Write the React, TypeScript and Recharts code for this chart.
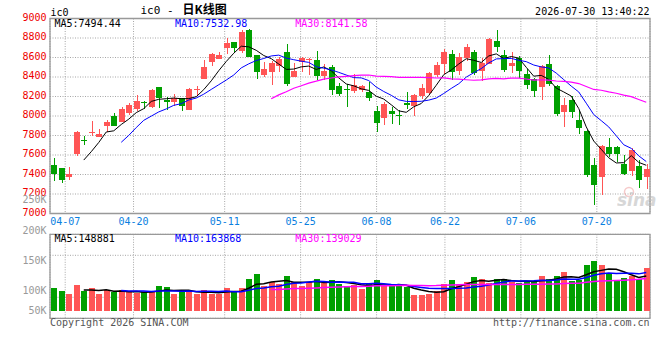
import React from 'react';
import { ComposedChart, Bar, Line, XAxis, YAxis, CartesianGrid, ReferenceArea } from 'recharts';

// Trading days (MM-DD), 2026
const dates = [
  '04-02', '04-03', '04-07', '04-08', '04-09', '04-10', '04-13', '04-14', '04-15', '04-16',
  '04-17', '04-20', '04-21', '04-22', '04-23', '04-24', '04-27', '04-28', '04-29', '04-30',
  '05-06', '05-07', '05-08', '05-11', '05-12', '05-13', '05-14', '05-15', '05-18', '05-19',
  '05-20', '05-21', '05-22', '05-25', '05-26', '05-27', '05-28', '05-29', '06-01', '06-02',
  '06-03', '06-04', '06-05', '06-08', '06-09', '06-10', '06-11', '06-12', '06-15', '06-16',
  '06-17', '06-18', '06-22', '06-23', '06-24', '06-25', '06-26', '06-29', '06-30', '07-01',
  '07-02', '07-03', '07-06', '07-07', '07-08', '07-09', '07-10', '07-13', '07-14', '07-15',
  '07-16', '07-17', '07-20', '07-21', '07-22', '07-23', '07-24', '07-27', '07-28', '07-29',
];

const opens = [
  7497, 7463, 7374, 7614, 7752, 7829, 7785, 7897, 7998, 7942,
  8031, 8075, 8146, 8092, 8297, 8161, 8147, 8181, 8065, 8275,
  8380, 8550, 8588, 8694, 8759, 8670, 8886, 8626, 8421, 8455,
  8513, 8656, 8403, 8554, 8576, 8571, 8414, 8503, 8311, 8272,
  8256, 8263, 8250, 8051, 7983, 8051, 8010, 8133, 8103, 8205,
  8236, 8421, 8533, 8636, 8462, 8598, 8656, 8462, 8533, 8769,
  8626, 8516, 8592, 8431, 8376, 8301, 8533, 8308, 8044, 8164,
  7956, 7850, 7497, 7378, 7679, 7679, 7511, 7439, 7487, 7374,
];

const highs = [
  7566, 7470, 7480, 7845, 7798, 7949, 7867, 7956, 8034, 8089,
  8130, 8215, 8157, 8277, 8300, 8195, 8222, 8185, 8291, 8304,
  8571, 8646, 8653, 8803, 8762, 8886, 8892, 8630, 8550, 8564,
  8602, 8742, 8540, 8609, 8592, 8667, 8530, 8523, 8335, 8332,
  8427, 8315, 8352, 8106, 8144, 8092, 8062, 8243, 8229, 8325,
  8448, 8557, 8691, 8677, 8646, 8735, 8677, 8592, 8804, 8886,
  8677, 8653, 8615, 8482, 8385, 8523, 8626, 8315, 8181, 8205,
  8062, 7856, 7569, 7699, 7778, 7692, 7600, 7668, 7549, 7504,
];

const lows = [
  7337, 7316, 7347, 7593, 7699, 7798, 7782, 7833, 7898, 7935,
  8010, 8055, 8068, 8086, 8086, 8062, 8106, 8055, 8062, 8215,
  8375, 8516, 8585, 8633, 8660, 8650, 8600, 8383, 8400, 8318,
  8455, 8311, 8400, 8448, 8421, 8369, 8366, 8215, 8209, 8096,
  8233, 8243, 8154, 7839, 7908, 7921, 7908, 8072, 8000, 8174,
  8229, 8400, 8431, 8373, 8421, 8564, 8421, 8359, 8530, 8660,
  8455, 8445, 8386, 8277, 8198, 8164, 8304, 7997, 7884, 7983,
  7815, 7371, 7087, 7190, 7576, 7532, 7400, 7388, 7258, 7251,
];

const closes = [
  7405, 7347, 7402, 7839, 7748, 7835, 7819, 7938, 7901, 8072,
  8109, 8154, 8142, 8270, 8181, 8140, 8188, 8106, 8277, 8279,
  8503, 8639, 8626, 8749, 8701, 8865, 8605, 8448, 8482, 8540,
  8588, 8332, 8465, 8595, 8580, 8414, 8462, 8270, 8229, 8268,
  8318, 8308, 8188, 7932, 8123, 8024, 7997, 8113, 8215, 8291,
  8438, 8520, 8657, 8452, 8602, 8705, 8442, 8544, 8787, 8708,
  8470.6, 8541, 8462, 8315, 8253, 8513, 8329, 8021, 8117, 8041,
  7872, 7390, 7294, 7694, 7607.6, 7607, 7405, 7655, 7347, 7458.2,
];

const volumes = [
  96200, 83300, 71800, 112100, 83300, 96200, 70400, 90500, 79000, 87600,
  79000, 76200, 79000, 83300, 104900, 100600, 70400, 83300, 83300, 71800,
  87600, 73300, 73300, 96200, 83300, 96200, 135000, 156600, 107800, 122100,
  113500, 148000, 122100, 107800, 122100, 135000, 117800, 130700, 116400, 107800,
  112100, 91900, 116400, 130700, 104900, 104900, 104900, 102000, 67500, 67500,
  72300, 86700, 114000, 131200, 114000, 122600, 144100, 135500, 118300, 135500,
  135500, 124000, 119700, 125500, 125500, 148500, 135500, 148500, 165700, 129590,
  133700, 195500, 212700, 195500, 156875, 129300, 142200, 150900, 137900, 184105,
];

const priceTicks = [7000, 7200, 7400, 7600, 7800, 8000, 8200, 8400, 8600, 8800, 9000];
const dateTicks = ['04-07', '04-20', '05-11', '05-25', '06-08', '06-22', '07-06', '07-20'];
const volumeTickLabels = [50000, 100000, 150000, 200000, 250000];

const RED = '#ff5555';
const GREEN = '#00a000';
const MONO = '"DejaVu Sans Mono", "Liberation Mono", monospace';
const GRID = '#a6a6a6';
const FRAME = '#999999';

function movingAverage(values: number[], n: number): (number | null)[] {
  return values.map((_, i) => {
    if (i < n - 1) return null;
    let s = 0;
    for (let k = i - n + 1; k <= i; k++) s += values[k];
    return s / n;
  });
}

const ma5 = movingAverage(closes, 5);
const ma10 = movingAverage(closes, 10);
const ma30 = movingAverage(closes, 30);
const vma5 = movingAverage(volumes, 5);
const vma10 = movingAverage(volumes, 10);
const vma30 = movingAverage(volumes, 30);

const rows = dates.map((date, i) => ({
  idx: i,
  date,
  open: opens[i],
  high: highs[i],
  low: lows[i],
  close: closes[i],
  volume: volumes[i],
  ma5: ma5[i],
  ma10: ma10[i],
  ma30: ma30[i],
  vma5: vma5[i],
  vma10: vma10[i],
  vma30: vma30[i],
}));

const N = dates.length;
const dateTickIdx = dateTicks.map((d) => dates.indexOf(d));
const last = (a: (number | null)[]) => a[a.length - 1] as number;

// Layout of the two panels
const MAIN_H = 232;
const VOL_TOP = 190;
const VOL_H = 170;
const VOL_MARGIN = { top: 44.3, right: 10, bottom: 41.7, left: 0 };
const VOL_PLOT_BOTTOM = VOL_H - VOL_MARGIN.bottom;

function Candle(props: any) {
  const { x, y, width, height, payload } = props;
  if (x == null || y == null || !payload) return null;
  const { open, close, high, low } = payload;
  const color = close >= open ? RED : GREEN;
  const top = Math.min(y, y + height);
  const span = Math.abs(height);
  const ppu = high > low ? span / (high - low) : 0;
  const py = (v: number) => top + (high - v) * ppu;
  const left = Math.round(x);
  const w = Math.round(width);
  const cx = left + Math.floor(w / 2) + 0.5;
  const bTop = Math.round(py(Math.max(open, close)));
  const bBot = Math.round(py(Math.min(open, close)));
  return (
    <g>
      <line x1={cx} x2={cx} y1={Math.round(top)} y2={Math.round(top + span)} stroke={color} strokeWidth={1} shapeRendering="crispEdges" />
      <rect x={left} y={bTop} width={w} height={Math.max(1, bBot - bTop)} fill={color} shapeRendering="crispEdges" />
    </g>
  );
}

function VolumeBar(props: any) {
  const { x, y, width, height, payload } = props;
  if (x == null || y == null || !payload) return null;
  const color = payload.close >= payload.open ? RED : GREEN;
  const top = Math.round(Math.min(y, y + height));
  const bottom = Math.round(Math.max(y, y + height));
  return <rect x={Math.round(x)} y={top} width={Math.round(width)} height={bottom - top} fill={color} shapeRendering="crispEdges" />;
}

function PriceTick(props: any) {
  const { x, y, payload } = props;
  return (
    <text x={x} y={y + 2.2} textAnchor="end" fill="#ee0000" fontSize={10} fontFamily={MONO}>
      {payload.value}
    </text>
  );
}

function DateTick(props: any) {
  const { x, y, payload } = props;
  return (
    <text x={x} y={y + 11} textAnchor="middle" fill="#0a80e0" fontSize={10} fontFamily={MONO}>
      {dates[payload.value]}
    </text>
  );
}

function VolumeLabelTick(props: any) {
  const { x, y, payload } = props;
  const ty = Math.min(y, VOL_PLOT_BOTTOM - 7.6);
  return (
    <text x={x} y={ty + 3.6} textAnchor="end" fill="#999999" fontSize={10} fontFamily={MONO}>
      {`${payload.value / 1000}K`}
    </text>
  );
}

export default function App() {
  return (
    <div style={{ position: 'absolute', left: 0, top: 0, width: 660, height: 360, background: '#ffffff', overflow: 'hidden' }}>
      <div style={{ position: 'absolute', left: 0, top: 0 }}>
        <ComposedChart width={660} height={MAIN_H} data={rows} margin={{ top: 18.5, right: 10, bottom: 0, left: 0 }}>
          <XAxis xAxisId="k" dataKey="date" type="category" hide />
          <XAxis
            xAxisId="dates"
            dataKey="idx"
            type="number"
            domain={[0, N - 1]}
            allowDataOverflow
            ticks={dateTickIdx}
            interval={0}
            axisLine={false}
            tickLine={false}
            tickSize={0}
            tickMargin={0}
            height={18.5}
            tick={<DateTick />}
          />
          <YAxis
            yAxisId="p"
            type="number"
            domain={[7000, 9000]}
            allowDataOverflow
            ticks={priceTicks}
            interval={0}
            width={50}
            axisLine={false}
            tickLine={false}
            tickSize={0}
            tickMargin={3.5}
            tick={<PriceTick />}
          />
          <CartesianGrid xAxisId="dates" yAxisId="p" stroke={GRID} strokeDasharray="1 1.5" />
          <ReferenceArea xAxisId="dates" yAxisId="p" x1={0} x2={N - 1} y1={7000} y2={9000} fill="none" stroke={FRAME} strokeWidth={1.3} />
          <Bar xAxisId="k" yAxisId="p" dataKey={(r: any) => [r.low, r.high]} barSize={6} shape={<Candle />} isAnimationActive={false} />
          <Line xAxisId="k" yAxisId="p" dataKey="ma5" stroke="#000000" strokeWidth={1} dot={false} isAnimationActive={false} />
          <Line xAxisId="k" yAxisId="p" dataKey="ma10" stroke="#0000ff" strokeWidth={1} dot={false} isAnimationActive={false} />
          <Line xAxisId="k" yAxisId="p" dataKey="ma30" stroke="#ff00ff" strokeWidth={1.2} dot={false} isAnimationActive={false} />
        </ComposedChart>
      </div>

      <div style={{ position: 'absolute', left: 0, top: VOL_TOP }}>
        <ComposedChart width={660} height={VOL_H} data={rows} margin={VOL_MARGIN}>
          <XAxis xAxisId="k" dataKey="date" type="category" hide />
          <XAxis xAxisId="dates" dataKey="idx" type="number" domain={[0, N - 1]} allowDataOverflow ticks={dateTickIdx} interval={0} hide />
          <YAxis yAxisId="v" type="number" domain={[-32000, 328000]} allowDataOverflow ticks={[58000, 148000, 238000]} hide />
          <YAxis
            yAxisId="lab"
            type="number"
            domain={[54300, 192900]}
            allowDataOverflow
            ticks={volumeTickLabels}
            interval={0}
            width={50}
            axisLine={false}
            tickLine={false}
            tickSize={0}
            tickMargin={3.5}
            tick={<VolumeLabelTick />}
          />
          <CartesianGrid xAxisId="dates" yAxisId="v" stroke={GRID} strokeDasharray="1 1.5" />
          <ReferenceArea xAxisId="dates" yAxisId="v" x1={0} x2={N - 1} y1={-32000} y2={328000} fill="none" stroke={FRAME} strokeWidth={1.3} />
          <Bar xAxisId="k" yAxisId="v" dataKey="volume" barSize={6} shape={<VolumeBar />} isAnimationActive={false} />
          <Line xAxisId="k" yAxisId="v" dataKey="vma5" stroke="#000000" strokeWidth={1.5} dot={false} isAnimationActive={false} />
          <Line xAxisId="k" yAxisId="v" dataKey="vma10" stroke="#0000ff" strokeWidth={1.5} dot={false} isAnimationActive={false} />
          <Line xAxisId="k" yAxisId="v" dataKey="vma30" stroke="#ff00ff" strokeWidth={1.5} dot={false} isAnimationActive={false} />
        </ComposedChart>
      </div>

      <svg width={660} height={360} style={{ position: 'absolute', left: 0, top: 0, pointerEvents: 'none' }}>
        <text x={50.5} y={16} fill="#000000" fontSize={10} fontFamily={MONO}>ic0</text>
        <text x={140.5} y={14.3} fill="#000000" fontSize={11} fontFamily={MONO}>
          ic0 -
          <tspan x={182.5} fontSize={12} fontWeight="bold" fontFamily='"Noto Sans CJK SC", sans-serif'>日K线图</tspan>
        </text>
        <text x={649.5} y={15} textAnchor="end" fill="#000000" fontSize={10} fontFamily={MONO}>2026-07-30 13:40:22</text>

        <text x={54.5} y={27.3} fill="#000000" fontSize={10} fontFamily={MONO}>{`MA5:${last(ma5).toFixed(2)}`}</text>
        <text x={175} y={27.3} fill="#0000ff" fontSize={10} fontFamily={MONO}>{`MA10:${last(ma10).toFixed(2)}`}</text>
        <text x={295.3} y={27.3} fill="#ff00ff" fontSize={10} fontFamily={MONO}>{`MA30:${last(ma30).toFixed(2)}`}</text>

        <text x={54.5} y={242.3} fill="#000000" fontSize={10} fontFamily={MONO}>{`MA5:${Math.round(last(vma5))}`}</text>
        <text x={175} y={242.3} fill="#0000ff" fontSize={10} fontFamily={MONO}>{`MA10:${Math.round(last(vma10))}`}</text>
        <text x={295.3} y={242.3} fill="#ff00ff" fontSize={10} fontFamily={MONO}>{`MA30:${Math.round(last(vma30))}`}</text>

        <g opacity={0.55}>
          <circle cx={629} cy={192} r={4.5} fill="none" stroke="#f0a0a0" strokeWidth={1.5} />
          <text x={617} y={206} fill="#b8b8b8" fontSize={17} fontStyle="italic" fontWeight="bold" fontFamily="DejaVu Sans, sans-serif">sina</text>
        </g>

        <text x={50} y={325.7} fill="#555555" fontSize={10} fontFamily={MONO}>Copyright 2026 SINA.COM</text>
        <text x={649.5} y={325.7} textAnchor="end" fill="#555555" fontSize={10} fontFamily={MONO}>http://finance.sina.com.cn</text>
      </svg>
    </div>
  );
}
